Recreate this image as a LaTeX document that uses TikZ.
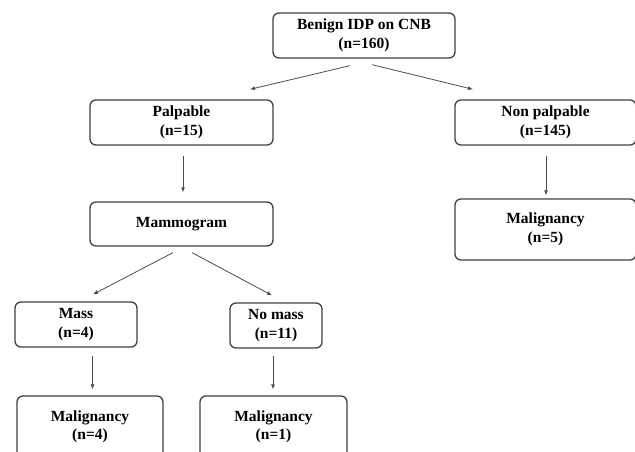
\documentclass[tikz,border=0pt]{standalone}
\usepackage{fontspec}
\setmainfont{Liberation Serif}
\usetikzlibrary{arrows.meta}

\begin{document}
\begin{tikzpicture}[x=1pt,y=-1pt,
	>={Latex[length=5pt,width=4pt]},
	box/.style={
		draw=black!75,
		line width=1.3pt,
		rounded corners=6pt,
		align=center,
		inner sep=0pt,
		font=\fontsize{15.5}{18.5}\selectfont\bfseries,
	},
	arr/.style={->,draw=black!70,line width=0.8pt},
]
	\useasboundingbox (0,0) rectangle (635,452);
	% boxes
	\node[box,minimum width=182pt,minimum height=45pt] (benign) at (364,35.5) {Benign IDP on CNB\\(n=160)};
	\node[box,minimum width=183pt,minimum height=45pt] (palp) at (181.5,122.5) {Palpable\\(n=15)};
	\node[box,minimum width=181pt,minimum height=45pt] (nonpalp) at (545.5,122.5) {Non palpable\\(n=145)};
	\node[box,minimum width=183pt,minimum height=44pt] (mammo) at (181.5,224) {Mammogram};
	\node[box,minimum width=122pt,minimum height=45pt] (mass) at (76,324.5) {Mass\\(n=4)};
	\node[box,minimum width=92pt,minimum height=45pt] (nomass) at (276,325.5) {No mass\\(n=11)};
	\node[box,minimum width=146pt,minimum height=62pt] (malmass) at (90,427) {Malignancy\\(n=4)};
	\node[box,minimum width=147pt,minimum height=62pt] (malnomass) at (273.5,427) {Malignancy\\(n=1)};
	\node[box,minimum width=181pt,minimum height=61pt] (malnp) at (545.5,229.5) {Malignancy\\(n=5)};
	% arrows
	\draw[arr] ([shift={(-14,7)}]benign.south) -- ([shift={(68.5,-10)}]palp.north);
	\draw[arr] ([shift={(8,6)}]benign.south) -- ([shift={(-72.5,-10)}]nonpalp.north);
	\draw[arr] ([shift={(1.5,10)}]palp.south) -- ([shift={(1.5,-9)}]mammo.north);
	\draw[arr] ([shift={(-8.5,6)}]mammo.south) -- ([shift={(17,-7)}]mass.north);
	\draw[arr] ([shift={(10.5,6)}]mammo.south) -- ([shift={(-4,-7)}]nomass.north);
	\draw[arr] ([shift={(16.5,8)}]mass.south) -- ([shift={(2.5,-6)}]malmass.north);
	\draw[arr] ([shift={(-3,7)}]nomass.south) -- ([shift={(-0.5,-6)}]malnomass.north);
	\draw[arr] ([shift={(0.5,10)}]nonpalp.south) -- ([shift={(0.5,-3)}]malnp.north);
\end{tikzpicture}
\end{document}
